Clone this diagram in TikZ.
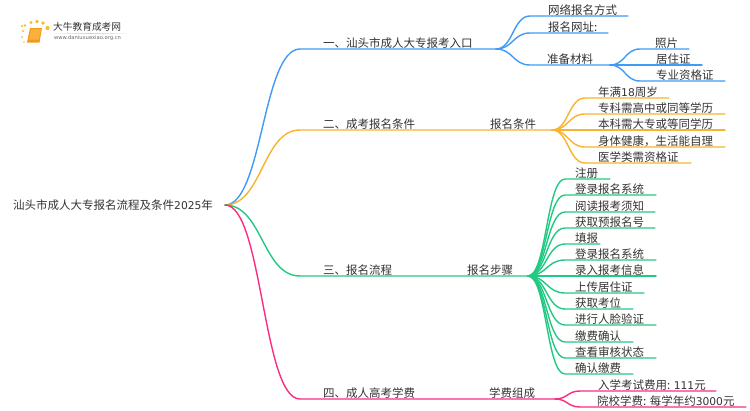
\documentclass[tikz,border=0pt]{standalone}
\usepackage{fontspec}
\usetikzlibrary{calc}
\setmainfont{DejaVu Sans}
\newfontfamily\cjk{Noto Sans CJK SC}
\newfontfamily\digits[Scale=0.93]{DejaVu Sans}
\definecolor{cblue}{HTML}{3F9BF5}
\definecolor{corange}{HTML}{F9B32F}
\definecolor{cgreen}{HTML}{22C983}
\definecolor{cpink}{HTML}{FA2D80}
\definecolor{ctext}{HTML}{333333}
\definecolor{cbook}{HTML}{F39A1E}
\definecolor{cbookl}{HTML}{FBB03B}
\tikzset{
  lbl/.style={anchor=west,inner sep=0pt,text=ctext,font=\fontsize{11.5}{12}\selectfont\cjk},
  wire/.style={line width=1.4pt,line cap=round},
}
% \leaf{name}{parent}{start x}{y}{end x}{text x}{colour}{text}
\newcommand{\leaf}[8]{%
  \coordinate (#1s) at (#3,-#4);
  \coordinate (#1e) at (#5,-#4);
  \node[lbl] (#1) at (#6,-#4+5.7) {#8};
  \draw[wire,#7] (#2) .. controls ($(#2)!0.5!(#1s |- #2)$) and ($(#1s)!0.5!(#2 |- #1s)$) .. (#1s) -- (#1e);
}
\newcommand{\dv}[1]{{\digits #1}}
\begin{document}
\begin{tikzpicture}[x=1pt,y=1pt]
\useasboundingbox (0,0) rectangle (750,-410);
\fill[white] (0,0) rectangle (750,-410);
% logo
\shade[left color=white,right color=white,middle color=black!18] (48,-33.5) rectangle (132,-33);
\foreach \px/\py/\pr in {22/26/1.2,23/31/1.1,25/25.5/1.4,31/22.5/1.7,37/21.5/1.8,43/23/1.8,47.5/28/2.1,22/37/1,24/42/.9}
  \fill[corange!90!yellow] (\px,-\py) circle (\pr);
\fill[cbook] (30,-28) -- (42,-28) -- (39.5,-42.5) -- (27,-42.5) -- cycle;
\fill[cbookl] (31,-29) -- (41,-29) -- (38.8,-39.5) -- (29,-39.5) -- cycle;
\node[inner sep=0pt,anchor=west,text=ctext,font=\fontsize{9.7}{10}\selectfont\cjk] (logoa) at (53,-27) {大牛教育成考网};
\node[inner sep=0pt,anchor=west,text=black!60,font=\fontsize{5.2}{6}\selectfont] (logob) at (54,-38.5) {www.daniuxuexiao.org.cn};
% root
\node[lbl] (root) at (13,-205) {汕头市成人大专报名流程及条件\dv{2025}年};
\coordinate (rootr) at (225,-205);
% branch 1
\leaf{a}{rootr}{300}{49}{496}{323}{cblue}{一、汕头市成人大专报考入口}
\coordinate (ar) at (496,-49);
\leaf{a1}{ar}{530}{16}{628}{548}{cblue}{网络报名方式}
\leaf{a3}{ar}{530}{33}{608}{548}{cblue}{报名网址:}
\leaf{a4}{ar}{530}{65}{610}{547}{cblue}{准备材料}
\coordinate (a4r) at (610,-65);
\leaf{a41}{a4r}{640}{49}{689}{655}{cblue}{照片}
\leaf{a42}{a4r}{640}{65}{702}{656}{cblue}{居住证}
\leaf{a43}{a4r}{640}{81}{725}{656}{cblue}{专业资格证}
% branch 2
\leaf{b}{rootr}{300}{130}{552}{323}{corange}{二、成考报名条件}
\node[lbl] (b0) at (490,-124.3) {报名条件};
\coordinate (br) at (552,-130);
\leaf{b1}{br}{585}{98}{669}{598}{corange}{年满\dv{18}周岁}
\leaf{b2}{br}{585}{114}{725}{598}{corange}{专科需高中或同等学历}
\leaf{b3}{br}{585}{130}{725}{598}{corange}{本科需大专或等同学历}
\leaf{b4}{br}{585}{147}{725}{598}{corange}{身体健康，生活能自理}
\leaf{b5}{br}{585}{163}{691}{598}{corange}{医学类需资格证}
% branch 3
\leaf{c}{rootr}{300}{276}{528}{323}{cgreen}{三、报名流程}
\node[lbl] (c0) at (467,-270.3) {报名步骤};
\coordinate (cr) at (528,-276);
\leaf{c1}{cr}{565}{179}{610}{575}{cgreen}{注册}
\leaf{c2}{cr}{565}{195}{656}{575}{cgreen}{登录报名系统}
\leaf{c3}{cr}{565}{212}{655}{575}{cgreen}{阅读报考须知}
\leaf{c4}{cr}{565}{228}{655}{575}{cgreen}{获取预报名号}
\leaf{c5}{cr}{565}{244}{600}{575}{cgreen}{填报}
\leaf{c6}{cr}{565}{260}{656}{575}{cgreen}{登录报名系统}
\leaf{c7}{cr}{565}{276}{656}{575}{cgreen}{录入报考信息}
\leaf{c8}{cr}{565}{293}{644}{575}{cgreen}{上传居住证}
\leaf{c9}{cr}{565}{309}{633}{575}{cgreen}{获取考位}
\leaf{c10}{cr}{565}{325}{656}{575}{cgreen}{进行人脸验证}
\leaf{c11}{cr}{565}{342}{633}{575}{cgreen}{缴费确认}
\leaf{c12}{cr}{565}{358}{656}{575}{cgreen}{查看审核状态}
\leaf{c13}{cr}{565}{374}{633}{575}{cgreen}{确认缴费}
% branch 4
\leaf{d}{rootr}{300}{399}{555}{323}{cpink}{四、成人高考学费}
\node[lbl] (d0) at (489,-393.3) {学费组成};
\coordinate (dr) at (555,-399);
\leaf{d1}{dr}{580}{391}{716}{598}{cpink}{入学考试费用: \dv{111}元}
\leaf{d2}{dr}{580}{407}{746}{597}{cpink}{院校学费: 每学年约\dv{3000}元}
\end{tikzpicture}
\end{document}
